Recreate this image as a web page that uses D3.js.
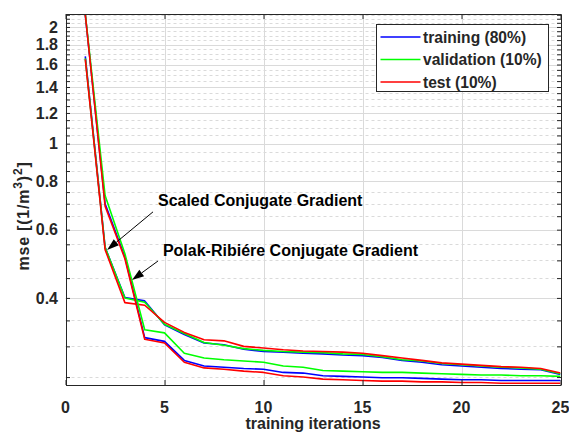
<!DOCTYPE html>
<html>
<head>
<meta charset="utf-8">
<script src="https://cdn.jsdelivr.net/npm/d3@7"></script>
<style>
  body { margin: 0; background: #fff; }
  text { font-family: "Liberation Sans", Arial, Helvetica, sans-serif; font-weight: bold; fill: #262626; }
</style>
</head>
<body>
<svg id="chart" width="569" height="433"></svg>
<script>
// Training iterations (epochs)
const iterations = [1, 2, 3, 4, 5, 6, 7, 8, 9, 10, 11, 12, 13, 14, 15, 16, 17, 18, 19, 20, 21, 22, 23, 24, 25];

// Scaled Conjugate Gradient run
const scgTraining   = [1.68, 0.540, 0.401, 0.393, 0.341, 0.322, 0.306, 0.303, 0.295, 0.291, 0.290, 0.288, 0.287, 0.285, 0.284, 0.281, 0.276, 0.273, 0.269, 0.267, 0.265, 0.263, 0.262, 0.261, 0.254];
const scgValidation = [1.66, 0.540, 0.400, 0.390, 0.342, 0.324, 0.307, 0.302, 0.296, 0.293, 0.291, 0.290, 0.289, 0.287, 0.286, 0.282, 0.277, 0.275, 0.271, 0.269, 0.267, 0.265, 0.264, 0.262, 0.255];
const scgTest       = [1.65, 0.533, 0.389, 0.383, 0.346, 0.326, 0.312, 0.310, 0.300, 0.297, 0.294, 0.292, 0.291, 0.290, 0.288, 0.284, 0.280, 0.276, 0.272, 0.270, 0.268, 0.266, 0.265, 0.263, 0.256];

// Polak-Ribière Conjugate Gradient run
const prTraining    = [2.15, 0.700, 0.510, 0.316, 0.309, 0.276, 0.267, 0.265, 0.263, 0.262, 0.257, 0.256, 0.252, 0.251, 0.250, 0.249, 0.249, 0.248, 0.247, 0.246, 0.246, 0.245, 0.245, 0.245, 0.245];
const prValidation  = [2.16, 0.735, 0.520, 0.331, 0.325, 0.288, 0.280, 0.277, 0.275, 0.273, 0.267, 0.265, 0.260, 0.259, 0.258, 0.257, 0.257, 0.256, 0.255, 0.254, 0.253, 0.253, 0.252, 0.252, 0.251];
const prTest        = [2.15, 0.690, 0.505, 0.313, 0.306, 0.273, 0.264, 0.262, 0.259, 0.257, 0.252, 0.250, 0.247, 0.246, 0.245, 0.244, 0.244, 0.243, 0.243, 0.242, 0.242, 0.241, 0.241, 0.241, 0.241];

// Legend entries and axis ticks
const seriesNames = ["training (80%)", "validation (10%)", "test (10%)"];
const seriesColors = ["#0000ff", "#00ff00", "#ff0000"];
const xTickValues = [0, 5, 10, 15, 20, 25];
const yTickValues = [0.4, 0.6, 0.8, 1, 1.2, 1.4, 1.6, 1.8, 2];
const yTickLabels = ["0.4", "0.6", "0.8", "1", "1.2", "1.4", "1.6", "1.8", "2"];
const yMinorStep = 0.05;

const runs = [
  { name: "Scaled Conjugate Gradient", series: [scgTraining, scgValidation, scgTest] },
  { name: "Polak-Ribiére Conjugate Gradient", series: [prTraining, prValidation, prTest] }
];

const svg = d3.select("#chart");
const plot = { left: 65.5, right: 560.5, top: 14, bottom: 385 };

const x = d3.scaleLinear().domain([0, 25]).range([plot.left, plot.right]);
const y = d3.scaleLog().domain([0.2385, 2.16]).range([plot.bottom, plot.top]);

const snap = v => Math.round(v) + 0.5;
const axisColor = "#262626";
const gridColor = "#dadada";

// Grid
const grid = svg.append("g");
const minorValues = d3.range(0.25, 2.16, yMinorStep).map(v => +v.toFixed(2))
  .filter(v => !yTickValues.some(t => Math.abs(t - v) < 1e-6));
grid.selectAll("line.minor").data(minorValues).join("line")
  .attr("x1", plot.left).attr("x2", plot.right)
  .attr("y1", d => snap(y(d))).attr("y2", d => snap(y(d)))
  .attr("stroke", gridColor).attr("stroke-dasharray", "3,3");
grid.selectAll("line.major").data(yTickValues).join("line")
  .attr("x1", plot.left).attr("x2", plot.right)
  .attr("y1", d => snap(y(d))).attr("y2", d => snap(y(d)))
  .attr("stroke", gridColor);
grid.selectAll("line.vx").data(xTickValues.slice(1, -1)).join("line")
  .attr("x1", d => snap(x(d))).attr("x2", d => snap(x(d)))
  .attr("y1", plot.top).attr("y2", plot.bottom)
  .attr("stroke", gridColor);

// Curves
svg.append("clipPath").attr("id", "plotClip")
  .append("rect").attr("x", plot.left).attr("y", plot.top)
  .attr("width", plot.right - plot.left).attr("height", plot.bottom - plot.top);

const line = d3.line().x((d, i) => x(iterations[i])).y(d => y(d));
const curves = svg.append("g").attr("clip-path", "url(#plotClip)");
runs.forEach(run => {
  run.series.forEach((values, k) => {
    curves.append("path").datum(values)
      .attr("d", line)
      .attr("fill", "none")
      .attr("stroke", seriesColors[k])
      .attr("stroke-width", 1.6)
      .attr("stroke-linejoin", "round");
  });
});

// Axes box and inward ticks
const yTicksAll = minorValues.concat(yTickValues);
const axisG = svg.append("g");
axisG.append("g").attr("transform", `translate(${snap(plot.left) - 0.5},0)`)
  .call(d3.axisLeft(y).tickValues(yTicksAll).tickSizeInner(-4).tickSizeOuter(0).tickFormat(""))
  .call(g => g.selectAll("line,path").attr("stroke", axisColor));
axisG.append("g").attr("transform", `translate(${snap(plot.right) - 0.5},0)`)
  .call(d3.axisRight(y).tickValues(yTicksAll).tickSizeInner(-4).tickSizeOuter(0).tickFormat(""))
  .call(g => g.selectAll("line,path").attr("stroke", axisColor));
axisG.append("g").attr("transform", `translate(0,${snap(plot.bottom) - 0.5})`)
  .call(d3.axisBottom(x).tickValues(xTickValues).tickSizeInner(-5).tickSizeOuter(0).tickFormat(""))
  .call(g => g.selectAll("line,path").attr("stroke", axisColor));
axisG.append("g").attr("transform", `translate(0,${snap(plot.top) - 0.5})`)
  .call(d3.axisTop(x).tickValues(xTickValues).tickSizeInner(-5).tickSizeOuter(0).tickFormat(""))
  .call(g => g.selectAll("line,path").attr("stroke", axisColor));
axisG.selectAll(".domain").attr("stroke-width", 1);

// Tick labels
svg.append("g").selectAll("text").data(yTickValues).join("text")
  .attr("x", 58).attr("y", d => y(d)).attr("dy", "0.36em")
  .attr("text-anchor", "end").attr("font-size", 16)
  .text((d, i) => yTickLabels[i]);
svg.append("g").selectAll("text").data(xTickValues).join("text")
  .attr("x", d => x(d)).attr("y", 413)
  .attr("text-anchor", "middle").attr("font-size", 16)
  .text(d => d);

// Axis titles
svg.append("text").attr("x", x(12.5)).attr("y", 429)
  .attr("text-anchor", "middle").attr("font-size", 16)
  .text("training iterations");
const yl = svg.append("text")
  .attr("transform", "translate(29,216) rotate(-90)")
  .attr("text-anchor", "middle").attr("font-size", 16)
  .style("letter-spacing", "0.8px");
yl.append("tspan").text("mse [(1/m");
yl.append("tspan").attr("font-size", 12).attr("dy", -7).text("3");
yl.append("tspan").attr("dy", 7).text(")");
yl.append("tspan").attr("font-size", 12).attr("dy", -7).text("2");
yl.append("tspan").attr("dy", 7).text("]");

// Annotations (data coordinates)
const notes = [
  { label: runs[0].name, text: { x: 4.67, y: 0.691 }, tail: { x: 4.42, y: 0.667 }, tip: { x: 2.1, y: 0.532 } },
  { label: runs[1].name, text: { x: 4.92, y: 0.513 }, tail: { x: 4.67, y: 0.498 }, tip: { x: 3.36, y: 0.445 } }
];
const ann = svg.append("g");
notes.forEach(n => {
  ann.append("text").attr("x", x(n.text.x)).attr("y", y(n.text.y))
    .attr("font-size", 16).style("fill", "#000").text(n.label);
  const x0 = x(n.tail.x), y0 = y(n.tail.y), x1 = x(n.tip.x), y1 = y(n.tip.y);
  const ang = Math.atan2(y1 - y0, x1 - x0);
  const len = 12, half = 4;
  const bx = x1 - len * Math.cos(ang), by = y1 - len * Math.sin(ang);
  ann.append("line").attr("x1", x0).attr("y1", y0).attr("x2", bx).attr("y2", by)
    .attr("stroke", "#000").attr("stroke-width", 1);
  const pts = [
    [x1, y1],
    [bx + half * Math.sin(ang), by - half * Math.cos(ang)],
    [bx - half * Math.sin(ang), by + half * Math.cos(ang)]
  ];
  ann.append("polygon").attr("points", pts.map(p => p.join(",")).join(" ")).attr("fill", "#000");
});

// Legend
const lg = svg.append("g").attr("transform", "translate(376.5,24.5)");
lg.append("rect").attr("width", 172).attr("height", 67)
  .attr("fill", "#fff").attr("stroke", axisColor).attr("stroke-width", 1);
seriesNames.forEach((name, i) => {
  const row = 12.5 + i * 22.5;
  lg.append("line").attr("x1", 4).attr("x2", 44).attr("y1", row).attr("y2", row)
    .attr("stroke", seriesColors[i]).attr("stroke-width", 1.6);
  lg.append("text").attr("x", 46.5).attr("y", row).attr("dy", "0.36em")
    .attr("font-size", 15.6).text(name);
});
</script>
</body>
</html>
